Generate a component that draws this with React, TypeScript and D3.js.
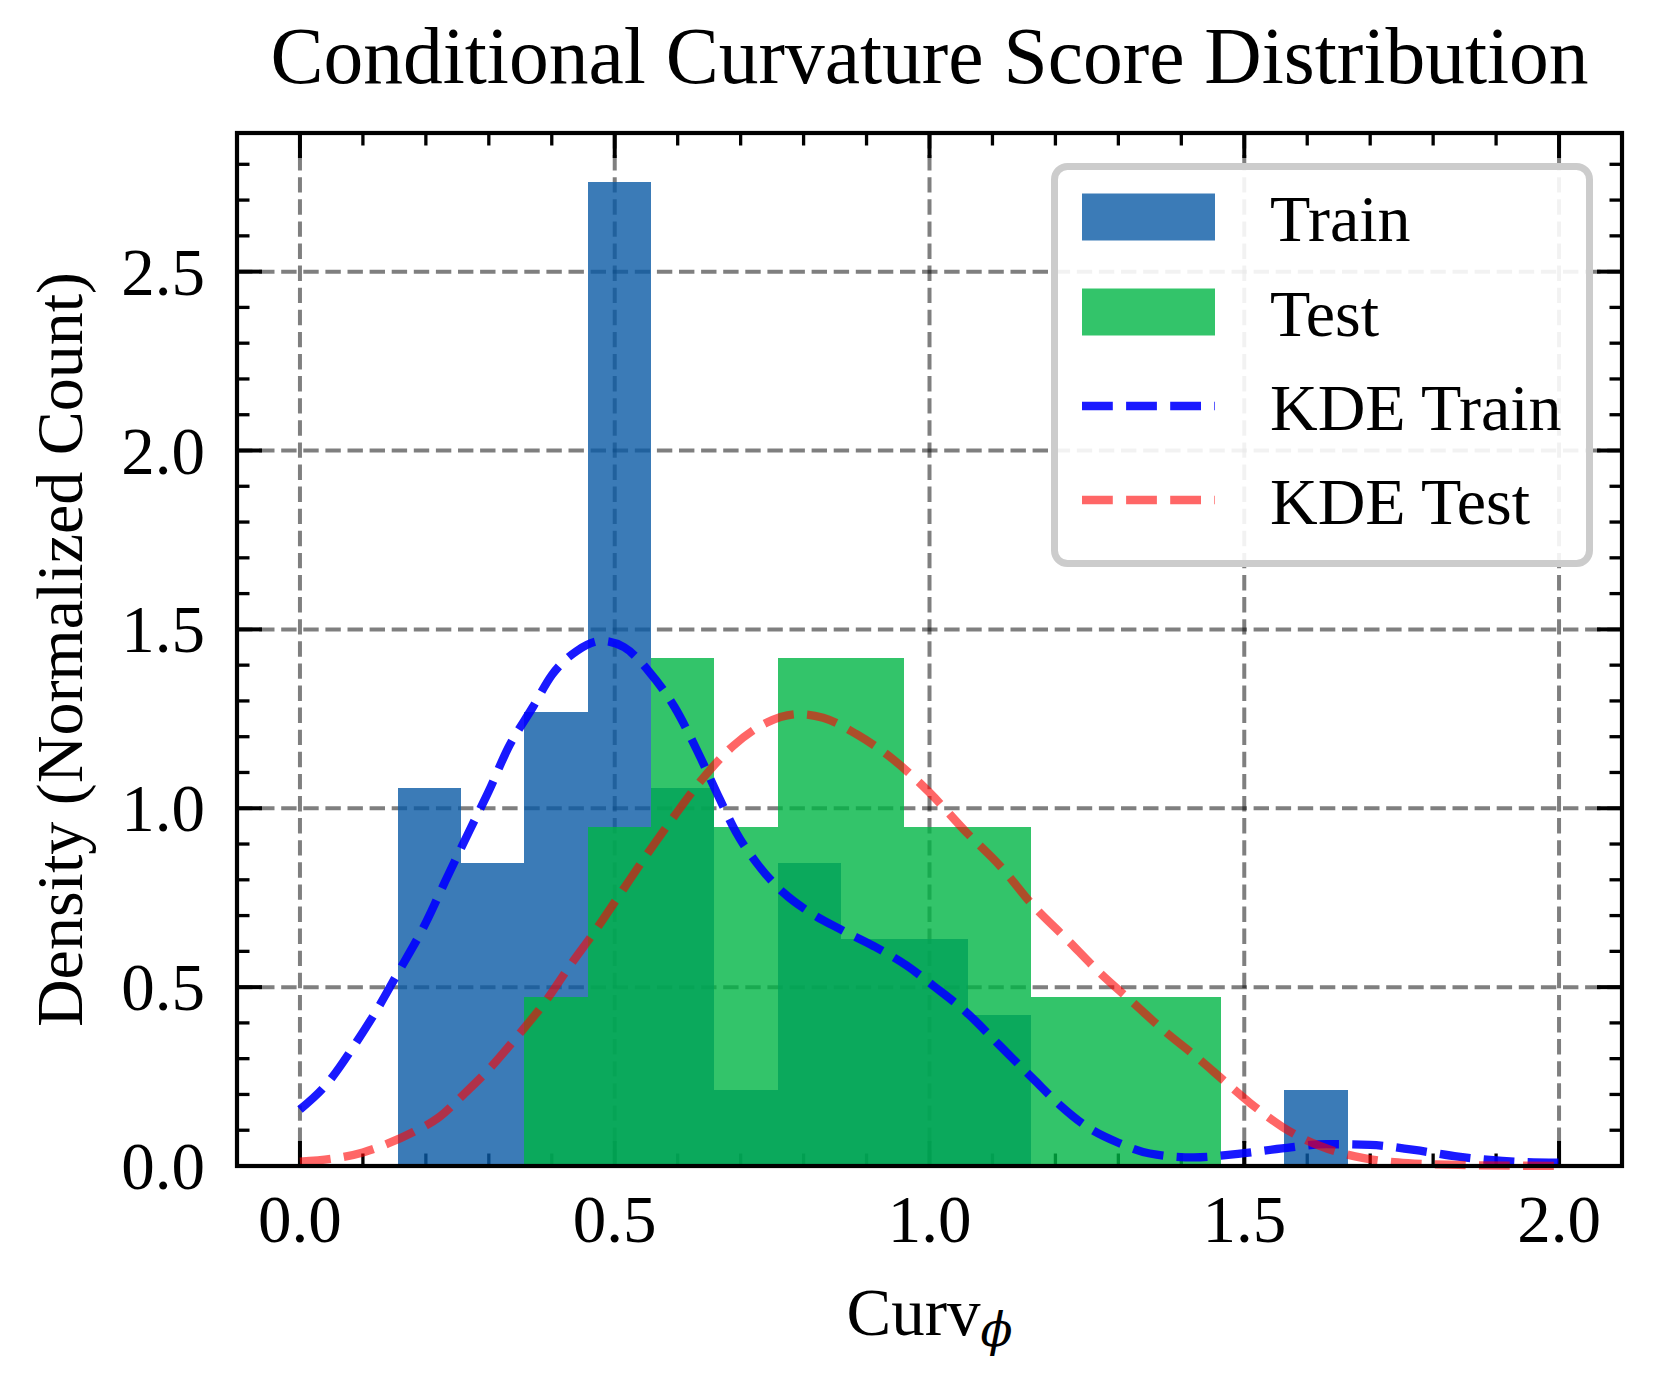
import React from 'react';
import * as d3 from 'd3';

// ---- data ----
const binEdges = [0.155, 0.2556, 0.3562, 0.4568, 0.5574, 0.658, 0.7586, 0.8592, 0.9598, 1.0604, 1.161, 1.2616, 1.3622, 1.4628, 1.5634, 1.664];
const trainCounts = [5, 4, 6, 13, 5, 1, 4, 3, 3, 2, 0, 0, 0, 0, 1];
const testCounts = [0, 0, 1, 2, 3, 2, 3, 3, 2, 2, 1, 1, 1, 0, 0];

const kdeTrainX = [0, 0.04, 0.09, 0.12, 0.155, 0.2, 0.23, 0.27, 0.3, 0.33, 0.37, 0.4, 0.44, 0.48, 0.515, 0.555, 0.595, 0.635, 0.667, 0.693, 0.725, 0.768, 0.81, 0.858, 0.911, 0.964, 1.006, 1.059, 1.112, 1.165, 1.208, 1.25, 1.3, 1.35, 1.42, 1.49, 1.56, 1.63, 1.7, 1.77, 1.84, 1.91, 2.0];
const kdeTrainY = [0.158, 0.224, 0.347, 0.43, 0.538, 0.68, 0.793, 0.94, 1.048, 1.166, 1.283, 1.372, 1.44, 1.468, 1.45, 1.381, 1.283, 1.146, 1.025, 0.932, 0.848, 0.764, 0.709, 0.662, 0.615, 0.56, 0.504, 0.429, 0.336, 0.243, 0.169, 0.11, 0.065, 0.035, 0.024, 0.034, 0.049, 0.061, 0.059, 0.045, 0.026, 0.014, 0.009];

const kdeTestX = [0, 0.05, 0.1, 0.14, 0.18, 0.22, 0.26, 0.3, 0.345, 0.39, 0.43, 0.47, 0.51, 0.55, 0.595, 0.637, 0.688, 0.741, 0.794, 0.831, 0.884, 0.942, 1.0, 1.059, 1.112, 1.165, 1.218, 1.27, 1.323, 1.376, 1.424, 1.47, 1.51, 1.56, 1.62, 1.69, 1.76, 1.84, 1.92, 2.0];
const kdeTestY = [0.012, 0.02, 0.038, 0.063, 0.095, 0.135, 0.2, 0.27, 0.362, 0.46, 0.563, 0.66, 0.764, 0.868, 0.979, 1.077, 1.174, 1.239, 1.263, 1.253, 1.207, 1.137, 1.044, 0.932, 0.839, 0.727, 0.634, 0.541, 0.457, 0.373, 0.305, 0.235, 0.175, 0.11, 0.056, 0.022, 0.008, 0.003, 0.001, 0.0005];

const xMajor = [0, 0.5, 1.0, 1.5, 2.0];
const yMajor = [0, 0.5, 1.0, 1.5, 2.0, 2.5];
const xMinor = d3.range(0, 21).map((i) => i / 10).filter((v) => Math.abs(v * 2 - Math.round(v * 2)) > 1e-6);
const yMinor = d3.range(0, 29).map((i) => i / 10).filter((v) => Math.abs(v * 2 - Math.round(v * 2)) > 1e-6);

const legendItems = ['Train', 'Test', 'KDE Train', 'KDE Test'];

const W = 1653;
const H = 1386;
const M = { left: 237, right: 1622, top: 133, bottom: 1166 };
const FONT = '"Liberation Serif", "Times New Roman", serif';

export default function App() {
  const x = d3.scaleLinear().domain([-0.1, 2.1]).range([M.left, M.right]);
  const y = d3.scaleLinear().domain([0, 2.8875]).range([M.bottom, M.top]);

  const trainTotal = d3.sum(trainCounts);
  const testTotal = d3.sum(testCounts);
  const bars = (counts: number[], total: number) =>
    counts.map((c, i) => {
      const w = binEdges[i + 1] - binEdges[i];
      return { x0: binEdges[i], x1: binEdges[i + 1], d: c / (total * w) };
    });
  const trainBars = bars(trainCounts, trainTotal);
  const testBars = bars(testCounts, testTotal);

  const line = d3
    .line<[number, number]>()
    .x((d) => x(d[0]))
    .y((d) => y(d[1]))
    .curve(d3.curveMonotoneX);
  const trainPath = line(kdeTrainX.map((v, i) => [v, kdeTrainY[i]]) as [number, number][]) || '';
  const testPath = line(kdeTestX.map((v, i) => [v, kdeTestY[i]]) as [number, number][]) || '';

  const blue = 'rgb(10,90,165)';
  const green = 'rgb(0,181,69)';

  const majLen = 25;
  const minLen = 12.5;

  const legendRowY = [217, 312, 406, 500];

  return (
    <svg width={W} height={H} style={{ position: 'absolute', left: 0, top: 0, background: '#fff' }} fontFamily={FONT}>
      <rect x={0} y={0} width={W} height={H} fill="#fff" />
      {/* grid */}
      <g stroke="rgba(0,0,0,0.5)" strokeWidth={4} strokeDasharray="15.4 6.7">
        {xMajor.map((v) => (
          <line key={'gx' + v} x1={x(v)} x2={x(v)} y1={M.top} y2={M.bottom} />
        ))}
        {yMajor.map((v) => (
          <line key={'gy' + v} x1={M.left} x2={M.right} y1={y(v)} y2={y(v)} />
        ))}
      </g>
      {/* ticks (inside, all four sides) */}
      <g stroke="#000">
        {xMajor.map((v) => (
          <g key={'tx' + v} strokeWidth={4}>
            <line x1={x(v)} x2={x(v)} y1={M.bottom} y2={M.bottom - majLen} />
            <line x1={x(v)} x2={x(v)} y1={M.top} y2={M.top + majLen} />
          </g>
        ))}
        {xMinor.map((v) => (
          <g key={'mx' + v} strokeWidth={3.3}>
            <line x1={x(v)} x2={x(v)} y1={M.bottom} y2={M.bottom - minLen} />
            <line x1={x(v)} x2={x(v)} y1={M.top} y2={M.top + minLen} />
          </g>
        ))}
        {yMajor.map((v) => (
          <g key={'ty' + v} strokeWidth={4}>
            <line x1={M.left} x2={M.left + majLen} y1={y(v)} y2={y(v)} />
            <line x1={M.right} x2={M.right - majLen} y1={y(v)} y2={y(v)} />
          </g>
        ))}
        {yMinor.map((v) => (
          <g key={'my' + v} strokeWidth={3.3}>
            <line x1={M.left} x2={M.left + minLen} y1={y(v)} y2={y(v)} />
            <line x1={M.right} x2={M.right - minLen} y1={y(v)} y2={y(v)} />
          </g>
        ))}
      </g>
      {/* histograms */}
      <g fill={blue} fillOpacity={0.8} shapeRendering="crispEdges">
        {trainBars.filter((b) => b.d > 0).map((b, i) => (
          <rect key={'tr' + i} x={Math.round(x(b.x0))} width={Math.round(x(b.x1)) - Math.round(x(b.x0))} y={y(b.d)} height={y(0) - y(b.d)} />
        ))}
      </g>
      <g fill={green} fillOpacity={0.8} shapeRendering="crispEdges">
        {testBars.filter((b) => b.d > 0).map((b, i) => (
          <rect key={'te' + i} x={Math.round(x(b.x0))} width={Math.round(x(b.x1)) - Math.round(x(b.x0))} y={y(b.d)} height={y(0) - y(b.d)} />
        ))}
      </g>
      {/* KDE lines */}
      <path d={trainPath} fill="none" stroke="rgb(0,0,255)" strokeOpacity={0.9} strokeWidth={8.33} strokeDasharray="30.8 13.3" />
      <path d={testPath} fill="none" stroke="rgb(255,0,0)" strokeOpacity={0.6} strokeWidth={8.33} strokeDasharray="30.8 13.3" />
      {/* spines */}
      <rect x={M.left} y={M.top} width={M.right - M.left} height={M.bottom - M.top} fill="none" stroke="#000" strokeWidth={4.2} />
      {/* tick labels */}
      <g fontSize={67} fill="#000">
        {xMajor.map((v) => (
          <text key={'lx' + v} x={x(v)} y={1242} textAnchor="middle">
            {d3.format('.1f')(v)}
          </text>
        ))}
        {yMajor.map((v) => (
          <text key={'ly' + v} x={205} y={y(v) + 23} textAnchor="end">
            {d3.format('.1f')(v)}
          </text>
        ))}
      </g>
      {/* axis labels */}
      <text x={(M.left + M.right) / 2} y={1335} textAnchor="middle" fontSize={67}>
        Curv
        <tspan fontSize={47} fontStyle="italic" dy={11} fontFamily={'"DejaVu Serif", "Liberation Serif", serif'}>
          ϕ
        </tspan>
      </text>
      <text transform={`translate(82, ${(M.top + M.bottom) / 2}) rotate(-90)`} textAnchor="middle" fontSize={66}>
        Density (Normalized Count)
      </text>
      {/* title */}
      <text x={(M.left + M.right) / 2} y={83} textAnchor="middle" fontSize={79.5}>
        Conditional Curvature Score Distribution
      </text>
      {/* legend */}
      <g>
        <rect x={1054.5} y={166.5} width={535} height={397} rx={13} ry={13} fill="#fff" fillOpacity={0.9} stroke="#cccccc" strokeWidth={7} />
        <rect x={1082} y={legendRowY[0] - 23.5} width={133} height={47} fill={blue} fillOpacity={0.8} />
        <rect x={1082} y={legendRowY[1] - 23.5} width={133} height={47} fill={green} fillOpacity={0.8} />
        <line x1={1082} x2={1215} y1={legendRowY[2]} y2={legendRowY[2]} stroke="rgb(0,0,255)" strokeOpacity={0.9} strokeWidth={8.33} strokeDasharray="30.8 13.3" />
        <line x1={1082} x2={1215} y1={legendRowY[3]} y2={legendRowY[3]} stroke="rgb(255,0,0)" strokeOpacity={0.6} strokeWidth={8.33} strokeDasharray="30.8 13.3" />
        {legendItems.map((t, i) => (
          <text key={t} x={1270} y={legendRowY[i] + 24} fontSize={66} fill="#000">
            {t}
          </text>
        ))}
      </g>
    </svg>
  );
}
